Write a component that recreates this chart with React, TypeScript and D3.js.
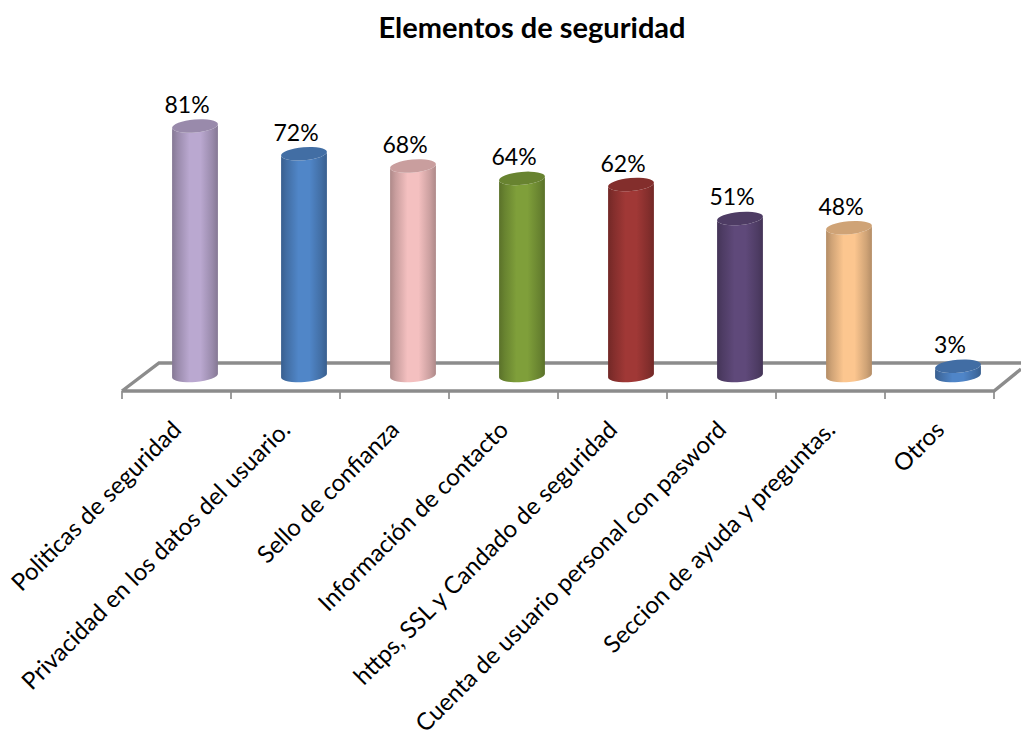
import React from "react";
import * as d3 from "d3";

const categories = ["Politicas de seguridad","Privacidad en los datos del usuario.","Sello de confianza","Información de contacto","https, SSL y Candado de seguridad","Cuenta de usuario personal con pasword","Seccion de ayuda y preguntas.","Otros"];
const values = [81,72,68,64,62,51,48,3];
const colors = ["#BAA8D0","#5086C8","#F4C0C0","#7F9F3A","#A03836","#5F497A","#FCC68F","#4F85C8"];
const title = "Elementos de seguridad";

const W = 1021, H = 731;
const FONT = "Lato, Carlito, Calibri, sans-serif";
const x = d3.scaleBand<string>().domain(categories).range([122, 994]);
const y = d3.scaleLinear().domain([0, 100]).range([375.5, 67.5]);
const rx = 23, ry = 6.5, tilt = -5;
const dx = rx * Math.cos(tilt * Math.PI / 180), dy = -rx * Math.sin(tilt * Math.PI / 180);
const ticks = d3.range(categories.length + 1).map(i => 122 + x.step() * i);

function bodyPath(cx: number, top: number, base: number) {
  return `M${cx - dx},${top + dy} L${cx - dx},${base + dy} A${rx},${ry} ${tilt} 0 0 ${cx + dx},${base - dy} L${cx + dx},${top - dy} A${rx},${ry} ${tilt} 0 1 ${cx - dx},${top + dy} Z`;
}

export default function App() {
  const shade = (c: string, k: number) => d3.color(c)!.darker(k).formatHex();
  return (
    <svg width={W} height={H} style={{ position: "absolute", left: 0, top: 0, background: "#fff" }} fontFamily={FONT}>
      <defs>
        {colors.map((c, i) => (
          <linearGradient key={i} id={`g${i}`} x1="0" x2="1" y1="0" y2="0">
            <stop offset="0" stopColor={shade(c, 0.95)} />
            <stop offset="0.12" stopColor={shade(c, 0.55)} />
            <stop offset="0.38" stopColor={c} />
            <stop offset="0.62" stopColor={c} />
            <stop offset="0.88" stopColor={shade(c, 0.55)} />
            <stop offset="1" stopColor={shade(c, 0.95)} />
          </linearGradient>
        ))}
      </defs>
      <text x={532} y={38} textAnchor="middle" fontSize={29} fontWeight={700} fill="#000">{title}</text>
      <path d={`M122,391 L159,363 L1021,363 M122,391 L994,391 L1021,369`} fill="none" stroke="#8c8c8c" strokeWidth={3.4} />
      {ticks.map(t => <line key={t} x1={t} x2={t} y1={391} y2={399} stroke="#8c8c8c" strokeWidth={1.7} />)}
      {categories.map((c, i) => {
        const cx = x(c)! + x.bandwidth() / 2 + 18.5;
        const top = y(values[i]);
        return (
          <g key={c}>
            <path d={bodyPath(cx, top, 375.5)} fill={`url(#g${i})`} />
            <ellipse cx={cx} cy={top} rx={rx} ry={ry} transform={`rotate(${tilt} ${cx} ${top})`} fill={shade(colors[i], 0.55)} />
            <text x={cx - 8} y={top - 13} textAnchor="middle" fontSize={23} fill="#000">{values[i]}%</text>
            <text transform={`translate(${x(c)! + x.bandwidth() / 2 + 2},${427}) rotate(-45)`} textAnchor="end" fontSize={24} fill="#000" dominantBaseline="middle">{c}</text>
          </g>
        );
      })}
    </svg>
  );
}
